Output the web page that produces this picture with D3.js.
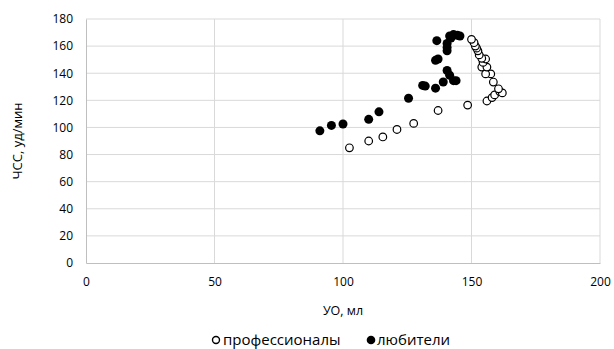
<!DOCTYPE html>
<html>
<head>
<meta charset="utf-8">
<script src="https://cdn.jsdelivr.net/npm/d3@7"></script>
<style>
  body { margin: 0; background: #fff; }
  text { font-family: "Open Sans", "Liberation Sans", sans-serif; fill: #000; }
</style>
</head>
<body>
<script>
// профессионалы (hollow markers)
const proX = [102.5, 110, 115.5, 121, 127.5, 137, 148.5, 156, 158, 159, 161, 162, 160.5, 158.5,
  157.5, 155.5, 154, 156, 154.5, 155.5, 154, 153, 152.5, 152, 151.5, 151, 150];
const proY = [85, 90, 93, 98.5, 103, 112.5, 116.5, 119.5, 122, 124, 126.5, 125.5, 128.5, 133.5,
  139.5, 139.5, 144.5, 144.5, 148, 150.5, 151, 153.5, 156.5, 158.5, 160, 162.5, 165];

// любители (filled markers)
const amX = [91, 95.5, 100, 110, 114, 125.5, 131, 132, 136, 139, 140.5, 141.5, 143, 144,
  136, 137, 140.5, 140.5, 140.5, 136.5, 141.5, 143, 144.5, 145.5, 142];
const amY = [97.5, 101.5, 102.5, 106, 111.5, 121.5, 131, 130.5, 129, 133.5, 142, 138.5, 134.5, 134.5,
  149.5, 150.5, 156.5, 159, 162, 164, 167.5, 168.5, 168, 167.5, 166];

const xTicks = [0, 50, 100, 150, 200];
const yTicks = [0, 20, 40, 60, 80, 100, 120, 140, 160, 180];

const W = 614, H = 349;
const margin = {left: 86, right: 14, top: 19, bottom: 86};

const svg = d3.select("body").append("svg")
  .attr("width", W)
  .attr("height", H);

const x = d3.scaleLinear().domain([0, 200]).range([margin.left, W - margin.right]);
const y = d3.scaleLinear().domain([0, 180]).range([H - margin.bottom, margin.top]);

// gridlines
svg.append("g").selectAll("line.h")
  .data(yTicks.filter(d => d > 0))
  .enter().append("line")
  .attr("x1", x(0)).attr("x2", x(200))
  .attr("y1", d => y(d)).attr("y2", d => y(d))
  .attr("stroke", "#d9d9d9").attr("stroke-width", 1);

svg.append("g").selectAll("line.v")
  .data(xTicks.filter(d => d > 0))
  .enter().append("line")
  .attr("x1", d => x(d)).attr("x2", d => x(d))
  .attr("y1", y(0)).attr("y2", y(180))
  .attr("stroke", "#d9d9d9").attr("stroke-width", 1);

// axes
const xAxis = svg.append("g")
  .attr("transform", `translate(0,${y(0)})`)
  .call(d3.axisBottom(x).tickValues(xTicks).tickSize(0).tickPadding(14));
const yAxis = svg.append("g")
  .attr("transform", `translate(${x(0)},0)`)
  .call(d3.axisLeft(y).tickValues(yTicks).tickSize(0).tickPadding(13));

[xAxis, yAxis].forEach(a => {
  a.select(".domain").attr("stroke", "#bfbfbf");
  a.selectAll("text").attr("font-size", 12).attr("fill", "#000")
    .attr("font-family", "\"Open Sans\", sans-serif");
});

// axis titles
svg.append("text")
  .attr("x", x(100)).attr("y", 315)
  .attr("text-anchor", "middle")
  .attr("font-size", 12.5).attr("fill", "#000")
  .text("УО, мл");

svg.append("text")
  .attr("transform", `translate(22,${(y(0) + y(180)) / 2}) rotate(-90)`)
  .attr("text-anchor", "middle")
  .attr("font-size", 13).attr("fill", "#000")
  .text("ЧСС, уд/мин");

// markers
const pro = proX.map((v, i) => [v, proY[i]]);
const am = amX.map((v, i) => [v, amY[i]]);

svg.append("g").selectAll("circle")
  .data(pro)
  .enter().append("circle")
  .attr("cx", d => x(d[0])).attr("cy", d => y(d[1]))
  .attr("r", 3.8)
  .attr("fill", "#fff")
  .attr("stroke", "#000").attr("stroke-width", 1.2);

svg.append("g").selectAll("circle")
  .data(am)
  .enter().append("circle")
  .attr("cx", d => x(d[0])).attr("cy", d => y(d[1]))
  .attr("r", 4.5)
  .attr("fill", "#000");

// legend
const legend = svg.append("g").attr("transform", "translate(0,340)");
legend.append("circle").attr("cx", 216).attr("cy", 0).attr("r", 3.5)
  .attr("fill", "#fff").attr("stroke", "#000").attr("stroke-width", 1.4);
legend.append("text").attr("x", 223).attr("y", 5)
  .attr("font-size", 15).attr("fill", "#000")
  .text("профессионалы");
legend.append("circle").attr("cx", 371).attr("cy", 0).attr("r", 4.3)
  .attr("fill", "#000");
legend.append("text").attr("x", 377).attr("y", 5)
  .attr("font-size", 15).attr("fill", "#000")
  .text("любители");
</script>
</body>
</html>
